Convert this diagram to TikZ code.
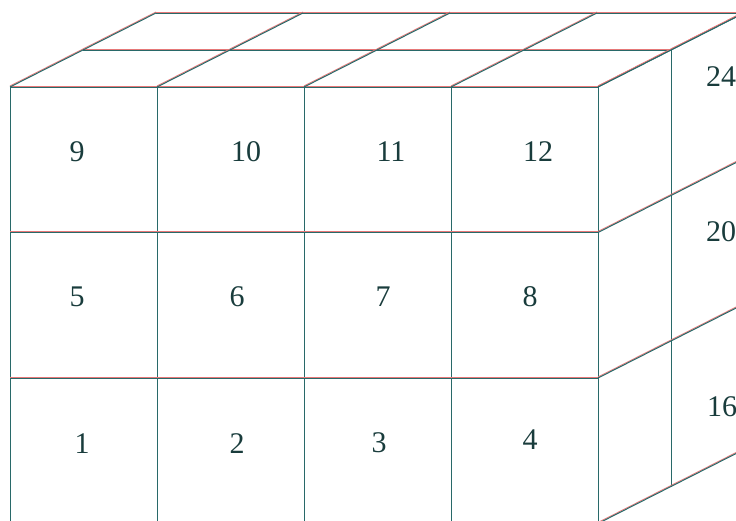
\documentclass[tikz,border=0pt]{standalone}
\usepackage{fontspec}
\setmainfont{Liberation Serif}
\definecolor{gridteal}{RGB}{40,105,105}
\definecolor{fringe}{RGB}{230,120,120}
\definecolor{digit}{RGB}{25,60,60}
\tikzset{
  edge/.style={draw=gridteal, line width=1pt,
    preaction={draw=fringe, line width=0.9pt, transform canvas={yshift=1pt}}},
  cellnum/.style={text=digit, font=\fontsize{30}{32}\selectfont, inner sep=0pt},
}

\begin{document}
\begin{tikzpicture}[x=1pt,y=-1pt]
\useasboundingbox (0,0) rectangle (736,520);
\clip (0,0) rectangle (736,520);
% front face
\foreach \i in {0,...,4}
  \draw[edge] (10+147*\i,87) -- (10+147*\i,530);
\foreach \j in {0,...,3}
  \draw[edge] (10,87+145.5*\j) -- (598,87+145.5*\j);
% top face
\foreach \k in {1,2}
  \draw[edge] (10+73*\k,87-37*\k) -- (598+73*\k,87-37*\k);
\foreach \i in {0,...,4}
  \draw[edge] (10+147*\i,87) -- ++(146,-74);
% right face
\foreach \k in {1,2}
  \draw[edge] (598+73*\k,87-37*\k) -- (598+73*\k,523.5-37*\k);
\foreach \j in {0,...,3}
  \draw[edge] (598,87+145.5*\j) -- ++(146,-74);
% numbers
\foreach \n/\x/\y in {9/77/152, 10/246/152, 11/391/152, 12/538/152,
    5/77/297, 6/237/297, 7/383/297, 8/530/297,
    1/82/444, 2/237/444, 3/379/443, 4/530/440,
    24/721/77, 20/721/232, 16/722/407}
  \node[cellnum] (c\n) at (\x,\y) {\n};
\end{tikzpicture}
\end{document}
